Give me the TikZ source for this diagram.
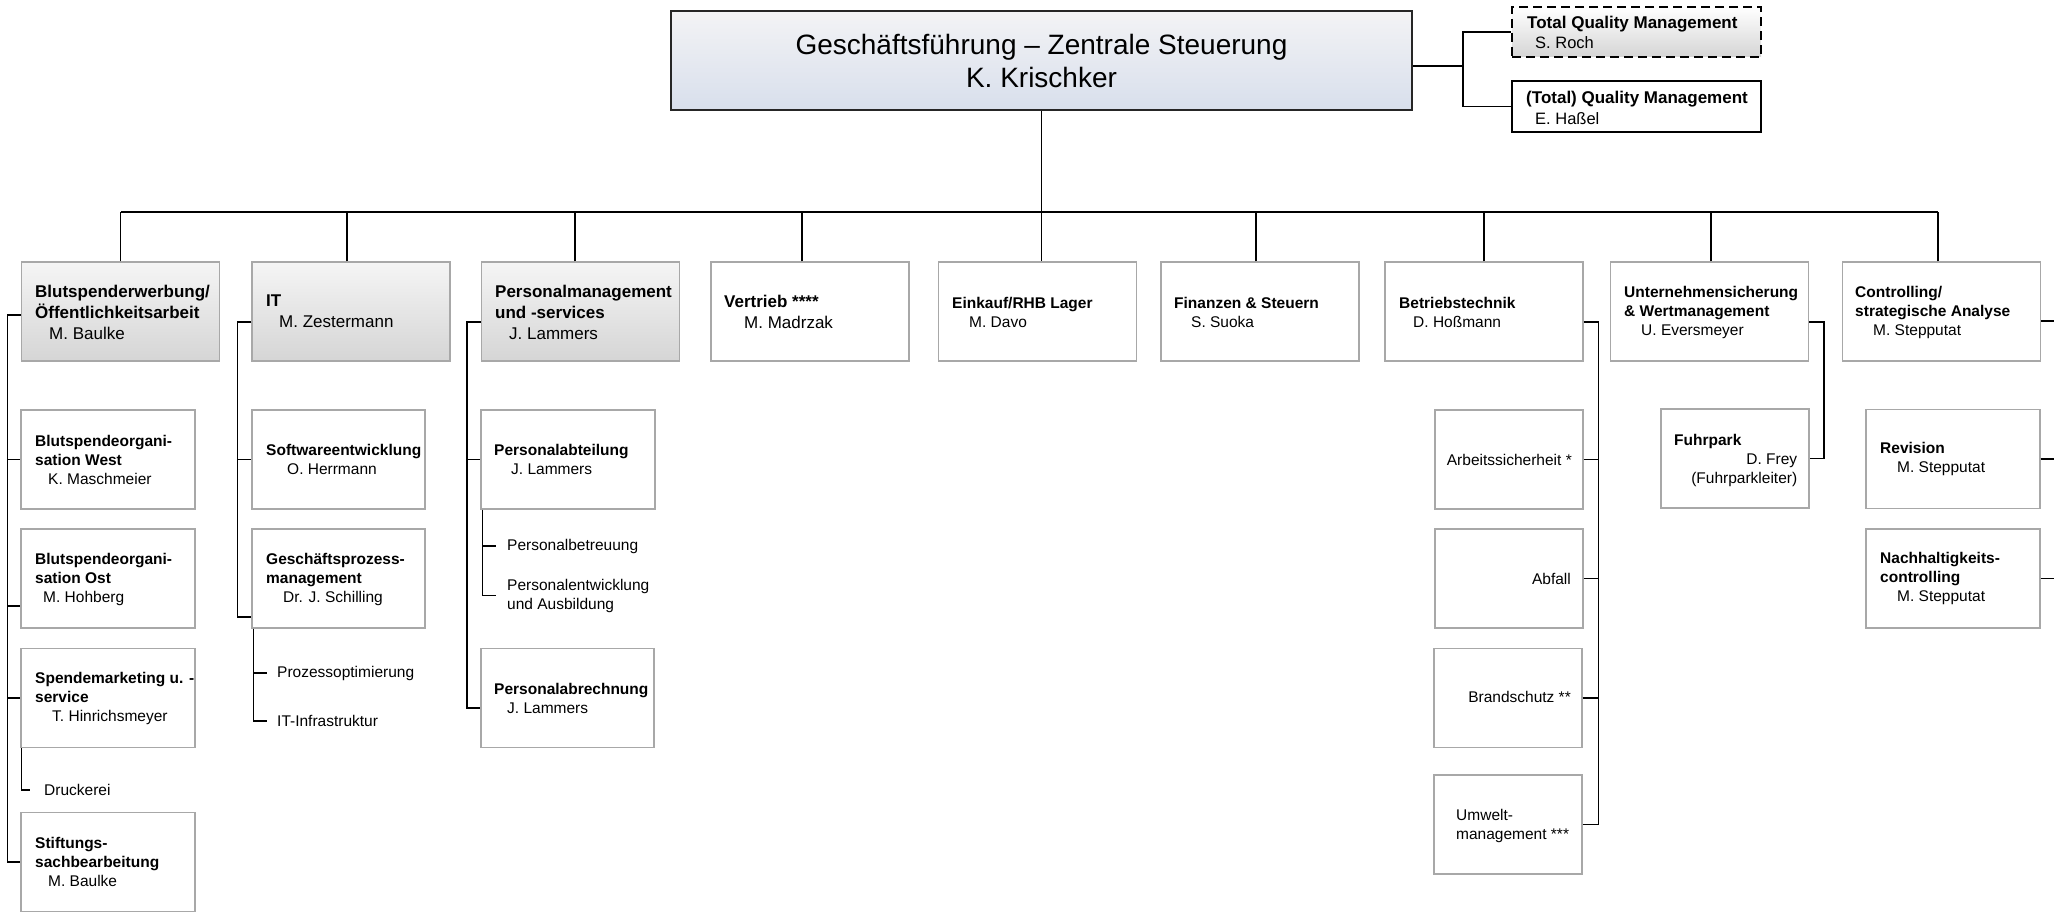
\documentclass[tikz,border=0pt]{standalone}
\usepackage{fontspec}
\setmainfont{Liberation Sans}
\definecolor{boxgray}{HTML}{A8A8A8}
\definecolor{gtop}{HTML}{F5F5F5}
\definecolor{gbot}{HTML}{D5D5D5}
\definecolor{mtop}{HTML}{F3F3F5}
\definecolor{mbot}{HTML}{D8DFEC}
\begin{document}
\begin{tikzpicture}[x=1pt,y=-1pt,
  conn/.style={draw=black,line width=1.3pt},
  mainbox/.style={draw=black!85,line width=1.5pt,top color=mtop,bottom color=mbot,
    minimum width=741pt,minimum height=99pt,inner sep=0pt,align=center,
    font=\fontsize{28}{33}\selectfont},
  gbox/.style={draw=boxgray,line width=1.2pt,top color=gtop,bottom color=gbot,
    minimum width=198pt,minimum height=99pt,inner sep=0pt},
  wbox/.style={draw=boxgray,line width=1.2pt,fill=white,minimum height=99pt,inner sep=0pt},
  wboxA/.style={wbox,minimum width=198pt},
  wboxB/.style={wbox,minimum width=174pt},
  wboxC/.style={wbox,minimum width=148pt},
  tqmbox/.style={draw=black,line width=2.5pt,dash pattern=on 9pt off 5pt,top color=white,
    bottom color=gbot,minimum width=249pt,minimum height=50pt,inner sep=0pt},
  qmbox/.style={draw=black,line width=1.5pt,fill=white,minimum width=249pt,
    minimum height=51pt,inner sep=0pt},
  tA/.style={inner sep=0pt,anchor=west,align=left,font=\fontsize{17}{21}\selectfont},
  tB/.style={inner sep=0pt,anchor=west,align=left,font=\fontsize{15.5}{19}\selectfont},
  tR/.style={inner sep=0pt,anchor=east,align=right,font=\fontsize{15.5}{19}\selectfont},
  tQ/.style={inner sep=0pt,anchor=west,align=left,font=\fontsize{17}{20.5}\selectfont}
]
\useasboundingbox (0,0) rectangle (2054,912);

% top
\node[mainbox] (gf) at (1041.5,60.5) {Geschäftsführung – Zentrale Steuerung\\K. Krischker};
\node[tqmbox] (tqm) at (1636.5,32) {};
\node[tQ] (ttqm) at (1527,32.5) {\textbf{Total Quality Management}\\\hspace*{8pt}{\fontsize{16.5}{20}\selectfont S. Roch}};
\node[qmbox] (qm) at (1636.5,106.5) {};
\node[tQ] (tqm2) at (1526,108) {\textbf{(Total) Quality Management}\\\hspace*{9pt}{\fontsize{16.5}{20}\selectfont E. Haßel}};

% level 2 boxes
\node[gbox] (b1) at (120.5,311.5) {};
\node[gbox] (b2) at (351,311.5) {};
\node[gbox] (b3) at (580.5,311.5) {};
\node[wboxA] (b4) at (810,311.5) {};
\node[wboxA] (b5) at (1037.5,311.5) {};
\node[wboxA] (b6) at (1260,311.5) {};
\node[wboxA] (b7) at (1484,311.5) {};
\node[wboxA] (b8) at (1709.5,311.5) {};
\node[wboxA] (b9) at (1941.5,311.5) {};

\node[tA] (tb1) at (35,312.5) {\textbf{Blutspenderwerbung/}\\\textbf{Öffentlichkeitsarbeit}\\\hspace*{14pt}M. Baulke};
\node[tA] (tb2) at (266,311.5) {\textbf{IT}\\\hspace*{13pt}M. Zestermann};
\node[tA] (tb3) at (495,312.5) {\textbf{Personalmanagement}\\\textbf{und -services}\\\hspace*{14pt}J. Lammers};
\node[tA] (tb4) at (724,311.5) {\textbf{Vertrieb ****}\\\hspace*{20pt}M. Madrzak};
\node[tB] (tb5) at (952,312) {\textbf{Einkauf/RHB Lager}\\\hspace*{17pt}M. Davo};
\node[tB] (tb6) at (1174,312) {\textbf{Finanzen \& Steuern}\\\hspace*{17pt}S. Suoka};
\node[tB] (tb7) at (1399,312) {\textbf{Betriebstechnik}\\\hspace*{14pt}D. Hoßmann};
\node[tB] (tb8) at (1624,312) {\textbf{Unternehmensicherung}\\\textbf{\& Wertmanagement}\\\hspace*{17pt}U. Eversmeyer};
\node[tB] (tb9) at (1855,312) {\textbf{Controlling/}\\\textbf{strategische Analyse}\\\hspace*{18pt}M. Stepputat};

% level 3 boxes
\node[wboxB] (s11) at (108,459.5) {};
\node[wboxB] (s12) at (108,578.5) {};
\node[wboxB] (s13) at (108,698) {};
\node[wboxB] (s14) at (108,862) {};
\node[wboxB,minimum width=173pt] (s21) at (338.5,459.5) {};
\node[wboxB,minimum width=173pt] (s22) at (338.5,578.5) {};
\node[wboxB] (s31) at (568,459.5) {};
\node[wboxB,minimum width=173pt] (s32) at (567.5,698) {};
\node[wboxC] (s71) at (1509,459.5) {};
\node[wboxC] (s72) at (1509,578.5) {};
\node[wboxC] (s73) at (1508,698) {};
\node[wboxC] (s74) at (1508,824.5) {};
\node[wboxC] (s81) at (1735,458.5) {};
\node[wboxB] (s91) at (1953,459) {};
\node[wboxB] (s92) at (1953,578.5) {};

\node[tB] (ts11) at (35,460) {\textbf{Blutspendeorgani-}\\\textbf{sation West}\\\hspace*{13pt}K. Maschmeier};
\node[tB] (ts12) at (35,579) {\textbf{Blutspendeorgani-}\\\textbf{sation Ost}\\\hspace*{8pt}M. Hohberg};
\node[tB] (ts13) at (35,698) {\textbf{Spendemarketing u. -}\\\textbf{service}\\\hspace*{17pt}T. Hinrichsmeyer};
\node[tB] (ts14) at (35,862) {\textbf{Stiftungs-}\\\textbf{sachbearbeitung}\\\hspace*{13pt}M. Baulke};
\node[tB] (ts21) at (266,459.5) {\textbf{Softwareentwicklung}\\\hspace*{21pt}O. Herrmann};
\node[tB] (ts22) at (266,579) {\textbf{Geschäftsprozess-}\\\textbf{management}\\\hspace*{17pt}Dr. J. Schilling};
\node[tB] (ts31) at (494,459.5) {\textbf{Personalabteilung}\\\hspace*{17pt}J. Lammers};
\node[tB] (ts32) at (494,698) {\textbf{Personalabrechnung}\\\hspace*{13pt}J. Lammers};
\node[tR] (ts71) at (1572,459.5) {Arbeitssicherheit *};
\node[tR] (ts72) at (1571,578.5) {Abfall};
\node[tR] (ts73) at (1571,697) {Brandschutz **};
\node[tB] (ts74) at (1456,825.5) {Umwelt-\\management ***};
\node[tB] (ts81) at (1674,460) {\textbf{Fuhrpark}\\\makebox[123pt][r]{D. Frey}\\\makebox[123pt][r]{(Fuhrparkleiter)}};
\node[tB] (ts91) at (1880,459) {\textbf{Revision}\\\hspace*{17pt}M. Stepputat};
\node[tB] (ts92) at (1880,578) {\textbf{Nachhaltigkeits-}\\\textbf{controlling}\\\hspace*{17pt}M. Stepputat};

% free sub items
\node[tB] (i1) at (44,790) {Druckerei};
\node[tB] (i2) at (277,673) {Prozessoptimierung};
\node[tB] (i3) at (277,721) {IT-Infrastruktur};
\node[tB] (i4) at (507,546) {Personalbetreuung};
\node[tB] (i5) at (507,595.5) {Personalentwicklung\\und Ausbildung};

% connectors: top
\coordinate (jq) at (1463,66);
\draw[conn] (gf.east |- jq) -- (jq);
\draw[conn] (tqm.west) -| (jq) |- (qm.west);

% bus and drops
\coordinate (busL) at (120.5,212);
\coordinate (d1) at (b1.north);
\coordinate (d2) at ([xshift=-4pt]b2.north);
\coordinate (d3) at ([xshift=-5.5pt]b3.north);
\coordinate (d4) at ([xshift=-8pt]b4.north);
\coordinate (d6) at ([xshift=-4pt]b6.north);
\coordinate (d7) at (b7.north);
\coordinate (d8) at ([xshift=1.5pt]b8.north);
\coordinate (d9) at ([xshift=-3.5pt]b9.north);
\draw[conn] (d1 |- busL) -- (d9 |- busL);
\draw[conn] (gf.south) -- (gf.south |- b5.north);
\foreach \d in {d1,d2,d3,d4,d6,d7,d8,d9} {\draw[conn] (\d) -- (\d |- busL);}

% left column
\coordinate (v1) at ([xshift=-13.5pt,yshift=-3.5pt]b1.west);
\draw[conn] ([yshift=-3.5pt]b1.west) -- (v1) |- (s14.west);
\draw[conn] (v1 |- s11.west) -- (s11.west);
\coordinate (o1) at ([yshift=-27.5pt]s12.west);
\draw[conn] (v1 |- o1) -- (o1);
\draw[conn] (v1 |- s13.west) -- (s13.west);
\coordinate (k1) at ([xshift=1pt]s13.south west);
\draw[conn] (k1) |- ([xshift=-14pt]i1.west);

% IT column
\coordinate (v2) at ([xshift=-14pt,yshift=-10.5pt]b2.west);
\coordinate (o2) at ([yshift=-38.5pt]s22.west);
\draw[conn] ([yshift=-10.5pt]b2.west) -- (v2) |- (o2);
\draw[conn] (v2 |- s21.west) -- (s21.west);
\coordinate (k2) at ([xshift=2pt]s22.south west);
\draw[conn] (k2) |- ([xshift=-10pt]i3.west);
\draw[conn] (k2 |- i2.west) -- ([xshift=-10pt]i2.west);

% Personal column
\coordinate (v3) at ([xshift=-14pt,yshift=-10.5pt]b3.west);
\coordinate (o3) at ([yshift=-10pt]s32.west);
\draw[conn] ([yshift=-10.5pt]b3.west) -- (v3) |- (o3);
\draw[conn] (v3 |- s31.west) -- (s31.west);
\coordinate (k3) at ([xshift=2pt]s31.south west);
\draw[conn] (k3) |- ([xshift=-11pt]i5.west);
\draw[conn] (k3 |- i4.west) -- ([xshift=-11pt]i4.west);

% Betriebstechnik
\coordinate (v7) at ([xshift=15pt,yshift=-10.5pt]b7.east);
\draw[conn] ([yshift=-10.5pt]b7.east) -- (v7) |- (s74.east);
\draw[conn] (s71.east) -- (s71.east -| v7);
\draw[conn] (s72.east) -- (s72.east -| v7);
\draw[conn] (s73.east) -- (s73.east -| v7);

% Unternehmensicherung
\coordinate (v8) at ([xshift=15pt,yshift=-10.5pt]b8.east);
\draw[conn] ([yshift=-10.5pt]b8.east) -- (v8) |- (s81.east);

% Controlling (stubs to right edge)
\coordinate (e9) at ([xshift=14pt,yshift=-9.5pt]b9.east);
\draw[conn] ([yshift=-9.5pt]b9.east) -- (e9);
\coordinate (e91) at ([xshift=14pt]s91.east);
\coordinate (e92) at ([xshift=14pt]s92.east);
\draw[conn] (s91.east) -- (e91);
\draw[conn] (s92.east) -- (e92);
\end{tikzpicture}
\end{document}
